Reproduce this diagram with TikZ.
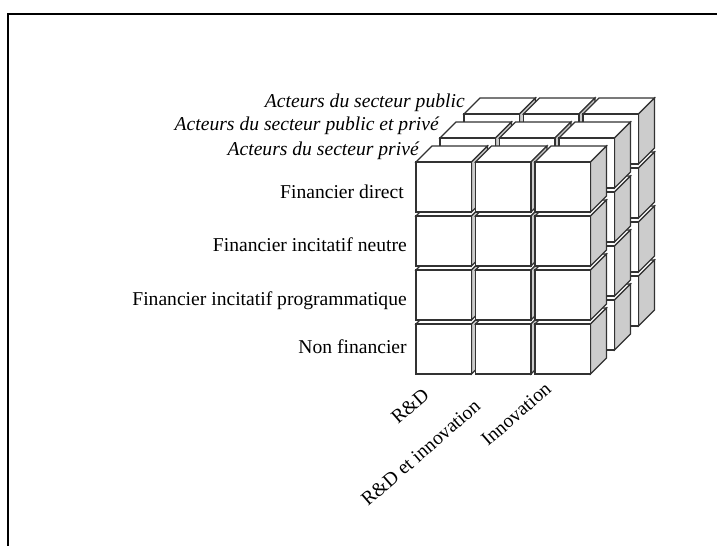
\documentclass[tikz,border=0pt]{standalone}
\usepackage{fontspec}
\setmainfont{Liberation Serif}
\usetikzlibrary{positioning}
\definecolor{sidegray}{RGB}{204,204,204}
\definecolor{edgegray}{RGB}{50,50,50}

\begin{document}
\begin{tikzpicture}[x=1pt,y=-1pt,semithick]
  \tikzstyle{face}=[draw=edgegray, line width=1.1pt, fill=white]
  \tikzstyle{side}=[face, fill=sidegray]
  \tikzstyle{lbl}=[inner sep=0pt, font=\fontsize{19.6}{22}\selectfont]
  \useasboundingbox (0,0) rectangle (717,546);
  \draw[line width=2pt] (717,13.5) -- (7.5,13.5) -- (7.5,546);

  % layers back to front, rows bottom to top
  \foreach \k in {2,1,0}{
    \foreach \r in {3,2,1,0}{
      \foreach \c in {0,1,2}{
        \pgfmathsetmacro{\cx}{416+59.5*\c+24*\k}
        \pgfmathsetmacro{\cy}{162+54*\r-24*\k}
        \draw[face] (\cx,\cy) -- ++(16,-16) -- ++(55.5,0) -- ++(-16,16) -- cycle;
        \draw[side] (\cx+55.5,\cy) -- ++(16,-16) -- ++(0,50) -- ++(-16,16) -- cycle;
        \draw[face] (\cx,\cy) rectangle ++(55.5,50);
      }
    }
  }

  \node[lbl, anchor=base east] (fd)  at (404,198.3) {Financier direct};
  \node[lbl, anchor=base east] (fin) at (407,251.7) {Financier incitatif neutre};
  \node[lbl, anchor=base east] (fip) at (407,305)   {Financier incitatif programmatique};
  \node[lbl, anchor=base east] (nf)  at (407,353.3) {Non financier};

  \node[lbl, anchor=base east, font=\fontsize{19.6}{22}\selectfont\itshape] (pub)  at (465,107)   {Acteurs du secteur public};
  \node[lbl, anchor=base east, font=\fontsize{19.6}{22}\selectfont\itshape] (mix)  at (439,130.5) {Acteurs du secteur public et privé};
  \node[lbl, anchor=base east, font=\fontsize{19.6}{22}\selectfont\itshape] (priv) at (419,155)   {Acteurs du secteur privé};

  \node[lbl, anchor=base west, rotate=41] (rd)   at (398,425) {R\&D};
  \node[lbl, anchor=base west, rotate=41] (rdi)  at (368,507) {R\&D et innovation};
  \node[lbl, anchor=base west, rotate=41] (inno) at (488,447) {Innovation};
\end{tikzpicture}
\end{document}
